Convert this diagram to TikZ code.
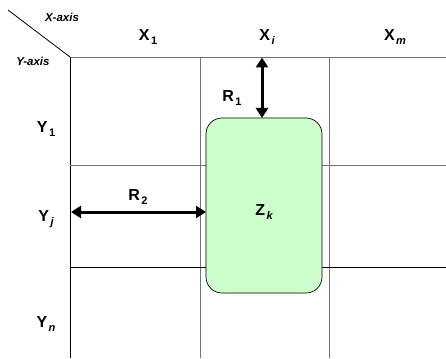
\documentclass[tikz,border=0pt]{standalone}
\usepackage{fontspec}
\setmainfont{Liberation Sans}
\usetikzlibrary{arrows.meta}
\newcommand{\sbs}[1]{\hspace{1.5pt}\raisebox{-0.5ex}{\fontsize{11}{12}\selectfont #1}}
\begin{document}
\begin{tikzpicture}[x=1pt,y=-1pt,
  grid/.style={draw=black!55, line width=0.9pt},
  gridk/.style={draw=black, line width=0.8pt},
  lbl/.style={font=\fontsize{16}{18}\selectfont\bfseries, inner sep=0pt},
  axl/.style={font=\fontsize{11.5}{13}\selectfont\bfseries\itshape, inner sep=0pt},
  dbl/.style={line width=3pt, {Triangle[length=10pt,width=12pt]}-{Triangle[length=10pt,width=12pt]}},
  zbox/.style={draw=black, line width=0.7pt, fill=green!20, rounded corners=16pt}]
\useasboundingbox (0,0) rectangle (446,358);
% grid
\coordinate (c0) at (70,57);
\coordinate (d0) at (8,10);
\draw[black, line width=0.8pt] (d0) -- (c0);
\coordinate (tr) at (446,57);
\draw[grid] (c0) -- (tr);
\coordinate (lb) at (70,358);
\draw[gridk] (c0) -- (lb);
\coordinate (v1t) at (200,57); \coordinate (v1b) at (200,358);
\coordinate (v2t) at (329,57); \coordinate (v2b) at (329,358);
\draw[grid] (v1t) -- (v1b);
\draw[grid] (v2t) -- (v2b);
\coordinate (h1l) at (70,165); \coordinate (h1r) at (446,165);
\coordinate (h2l) at (70,267); \coordinate (h2r) at (446,267);
\draw[grid] (h1l) -- (h1r);
\draw[gridk] (h2l) -- (h2r);
% box
\node[zbox, minimum width=116pt, minimum height=175pt, inner sep=0pt] (z) at (264,205.5) {};
\node[lbl] (zl) at (264,212) {Z\sbs{\itshape k}};
% arrows
\coordinate (r1t) at (262,57.5);
\coordinate (r1b) at (262,118);
\draw[dbl] (r1t) -- (r1b);
\coordinate (r2l) at (71,212);
\coordinate (r2r) at (206,212);
\draw[dbl] (r2l) -- (r2r);
\node[lbl] (r1) at (232,98) {R\sbs{1}};
\node[lbl] (r2) at (138,197) {R\sbs{2}};
% labels
\node[axl] (xa) at (62,17) {X-axis};
\node[axl] (ya) at (33,61) {Y-axis};
\node[lbl] (x1) at (148,37) {X\sbs{1}};
\node[lbl] (xi) at (267,37) {X\sbs{\itshape i}};
\node[lbl] (xm) at (395,37) {X\sbs{\itshape m}};
\node[lbl] (y1) at (46,129) {Y\sbs{1}};
\node[lbl] (yj) at (46,219) {Y\sbs{\itshape j}};
\node[lbl] (yn) at (46,324) {Y\sbs{\itshape n}};
\end{tikzpicture}
\end{document}
